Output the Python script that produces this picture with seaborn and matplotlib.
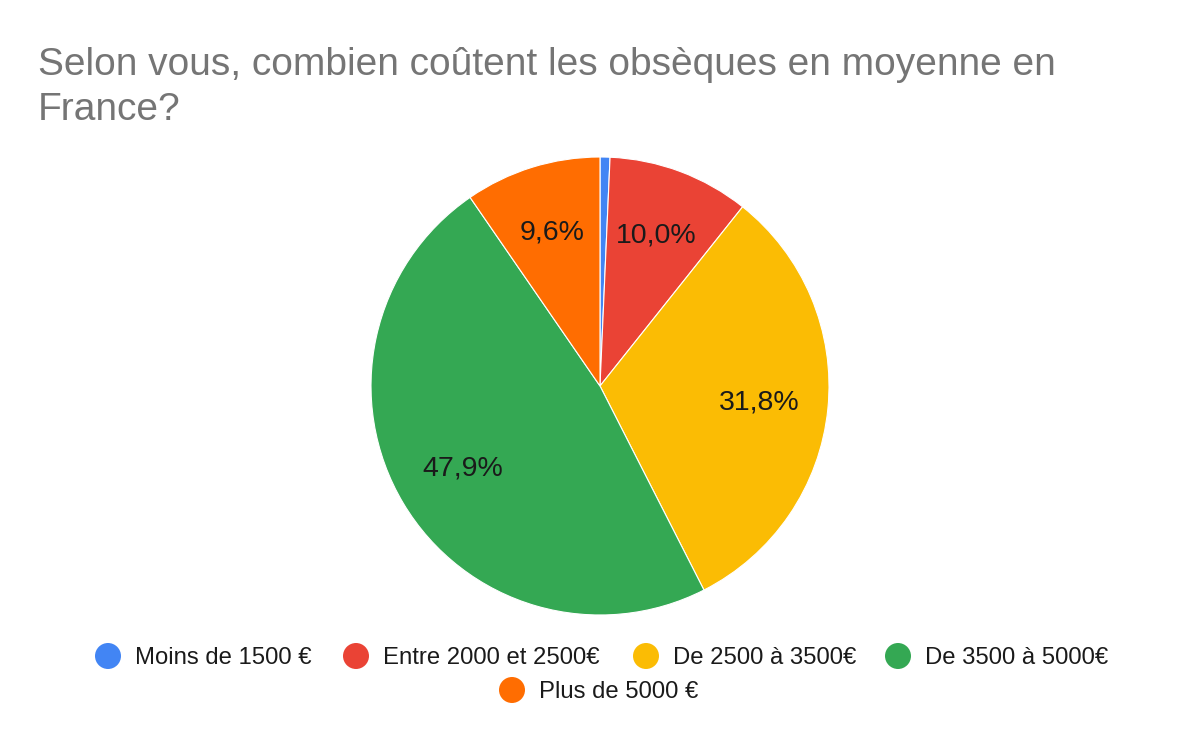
import matplotlib
matplotlib.use("Agg")
import matplotlib.pyplot as plt
import seaborn as sns

categories = ["Moins de 1500 €", "Entre 2000 et 2500€", "De 2500 à 3500€", "De 3500 à 5000€", "Plus de 5000 €"]
values = [0.7, 10.0, 31.8, 47.9, 9.6]
colors = ["#4285F4", "#EA4335", "#FBBC04", "#34A853", "#FF6D01"]
title = "Selon vous, combien coûtent les obsèques en moyenne en\nFrance?"

sns.set_theme(style="white")
plt.rcParams["font.family"] = ["Liberation Sans", "DejaVu Sans"]

W, H = 1200, 742
fig = plt.figure(figsize=(12, 7.42), dpi=100)
fig.patch.set_facecolor("white")

cx, cy, r = 600, 386, 229
ax = fig.add_axes([(cx - r) / W, (H - cy - r) / H, 2 * r / W, 2 * r / H])
ax.set_aspect("equal")

def fmt(p):
    return "" if p < 2 else f"{p:.1f}%".replace(".", ",")

wedges, texts, autotexts = ax.pie(
    values, colors=colors, startangle=90, counterclock=False,
    autopct=fmt, pctdistance=0.7,
    wedgeprops=dict(edgecolor="white", linewidth=0.8),
    textprops=dict(fontsize=20.5, color="#1a1a1a"),
)
ax.set_xlim(-1, 1)
ax.set_ylim(-1, 1)

fig.text(38 / W, 1 - 47 / H, title, fontsize=28, color="#757575",
         ha="left", va="top", linespacing=1.32)

# legend (manual, centered rows like the reference)
legend_pos = [(108, 656), (356, 656), (646, 656), (898, 656), (512, 690)]
for (mx, my), lab, col in zip(legend_pos, categories, colors):
    fig.patches.append(matplotlib.patches.Ellipse(
        (mx / W, 1 - my / H), 26 / W, 26 / H, transform=fig.transFigure,
        facecolor=col, edgecolor="none"))
    fig.text((mx + 27) / W, 1 - my / H, lab, fontsize=17.2, color="#1a1a1a",
             ha="left", va="center_baseline")

fig.savefig("out.png", dpi=100, facecolor="white")
